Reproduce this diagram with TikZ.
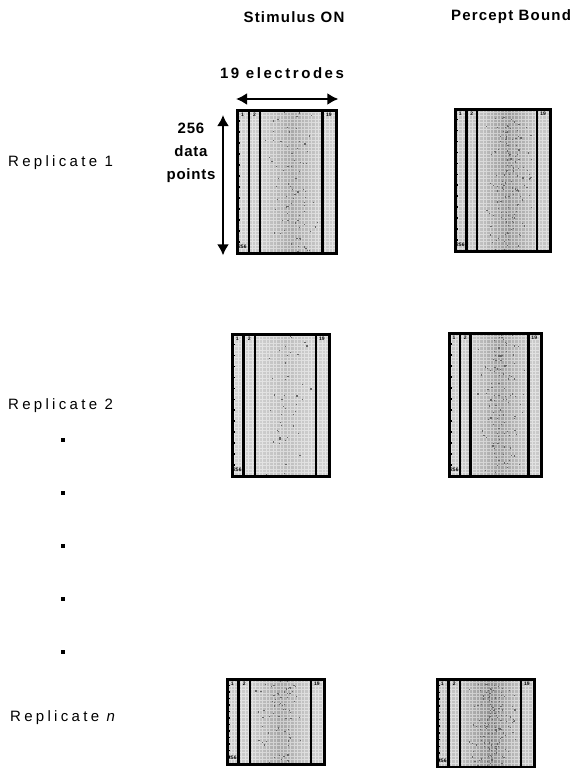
\documentclass[tikz,border=0pt]{standalone}
\usepackage{fontspec}
\setmainfont{Liberation Sans}
\usetikzlibrary{arrows.meta}

\tikzset{
  header/.style={font={\bfseries\fontsize{15}{18}\selectfont\addfontfeatures{LetterSpace=8}}, inner sep=0pt},
  rowlabel/.style={font={\fontsize{15}{18}\selectfont\addfontfeatures{LetterSpace=22}}, anchor=west, inner sep=0pt},
  elecLabel/.style={font={\bfseries\fontsize{15}{18}\selectfont\addfontfeatures{LetterSpace=17}}, inner sep=0pt},
  dimlabel/.style={font={\bfseries\fontsize{15}{23}\selectfont\addfontfeatures{LetterSpace=5}}, align=center, inner sep=0pt},
  dotmark/.style={rectangle, fill=black, minimum size=4pt, inner sep=0pt},
  dblarrow/.style={line width=2.5pt, {Latex[length=11pt,width=12pt]}-{Latex[length=11pt,width=12pt]}},
  panelbox/.style={rectangle, draw=black, line width=3.4pt, inner sep=0pt, anchor=north west},
  chanline/.style={black, line width=2.4pt},
  chanlabel/.style={font=\bfseries\fontsize{5}{5}\selectfont, inner sep=0pt},
}

% EEG data panel: #1 name, #2 left, #3 top, #4 right, #5 bottom,
% #6 background grey, #7 grey of the central streak, #8 number of dark specks
\newcommand{\eegpanel}[8]{%
  \pgfmathsetmacro\pL{#2}\pgfmathsetmacro\pT{#3}%
  \pgfmathsetmacro\pR{#4}\pgfmathsetmacro\pB{#5}%
  \pgfmathsetmacro\pW{\pR-\pL}%
  \pgfmathsetmacro\xa{\pL+0.13*\pW}%
  \pgfmathsetmacro\xb{\pL+0.245*\pW}%
  \pgfmathsetmacro\xc{\pL+0.875*\pW}%
  % textured background
  \fill[#6] (\pL,\pT) rectangle (\pR,\pB);
  \shade[left color=#6, right color=#6, middle color=#7] (\xb,\pT) rectangle (\xc,\pB);
  \begin{scope}
    \clip (\pL,\pT) rectangle (\pR,\pB);
    \draw[white, opacity=0.45, line width=0.4pt, step=3.5pt] (\pL,\pT) grid (\pR,\pB);
  \end{scope}
  \pgfmathsetseed{#8}
  \foreach \k in {1,...,#8}{%
    \pgfmathsetmacro\sx{\xb+(\xc-\xb)*(0.5+0.22*(rand+rand))}%
    \pgfmathsetmacro\sy{\pT+(\pB-\pT)*rnd}%
    \fill[black!60] (\sx,\sy) rectangle ++(1.2,1.2);
  }
  % sample ticks in the first channel column
  \foreach \t in {1,...,12}{%
    \pgfmathsetmacro\ty{\pT+\t*(\pB-\pT)/13}%
    \fill[black] (\pL+2,\ty) rectangle ++(2,1.5);
  }
  % channel separators
  \draw[chanline] (\xa,\pT) -- (\xa,\pB);
  \draw[chanline] (\xb,\pT) -- (\xb,\pB);
  \draw[chanline] (\xc,\pT) -- (\xc,\pB);
  % channel numbers
  \node[chanlabel] at ({(\pL+\xa)/2},\pT+6) {1};
  \node[chanlabel] at ({(\xa+\xb)/2},\pT+6) {2};
  \node[chanlabel] at ({(\xc+\pR)/2},\pT+6) {19};
  \node[chanlabel, anchor=west] at (\pL+2,\pB-5) {256};
  % frame
  \node[panelbox, minimum width={(#4-#2)*1pt}, minimum height={(#5-#3)*1pt}] (#1) at (#2,#3) {};
}

\begin{document}
\begin{tikzpicture}[x=1pt, y=-1pt]
  \useasboundingbox[fill=white] (0,0) rectangle (576,768);

  % column headers
  \node[header] (hstim) at (294,17) {Stimulus ON};
  \node[header] (hperc) at (511,17) {Percept Bound};

  % replicate 1
  \eegpanel{a1}{236}{109}{335}{252}{gray!40}{gray!68}{80}
  \eegpanel{b1}{454}{108}{549}{250}{gray!45}{gray!80}{140}

  % dimensions of one trial
  \draw[dblarrow] ([yshift=10pt]a1.north west) -- ([yshift=10pt]a1.north east);
  \node[elecLabel] (elec) at (282,73) {19 electrodes};
  \draw[dblarrow] ([xshift=-13pt,yshift=-6pt]a1.north west) -- ([xshift=-13pt]a1.south west);
  \node[dimlabel] (pts) at (191,153) {256\\data\\points};

  % replicate 2
  \eegpanel{a2}{231}{333}{328}{475}{gray!36}{gray!52}{45}
  \eegpanel{b2}{448}{332}{540}{475}{gray!42}{gray!75}{115}

  % replicate n
  \eegpanel{a3}{226}{678}{323}{763}{gray!40}{gray!70}{70}
  \eegpanel{b3}{436}{678}{533}{766}{gray!48}{gray!88}{140}

  % row labels
  \node[rowlabel] (r1) at (8,163) {Replicate 1};
  \node[rowlabel] (r2) at (8,406) {Replicate 2};
  \node[rowlabel] (rn) at (10,718) {Replicate \textit{n}};

  % ellipsis between replicates
  \node[dotmark] (d1) at (63,440) {};
  \node[dotmark] (d2) at (63,493) {};
  \node[dotmark] (d3) at (63,546) {};
  \node[dotmark] (d4) at (63,599) {};
  \node[dotmark] (d5) at (63,652) {};
\end{tikzpicture}
\end{document}
